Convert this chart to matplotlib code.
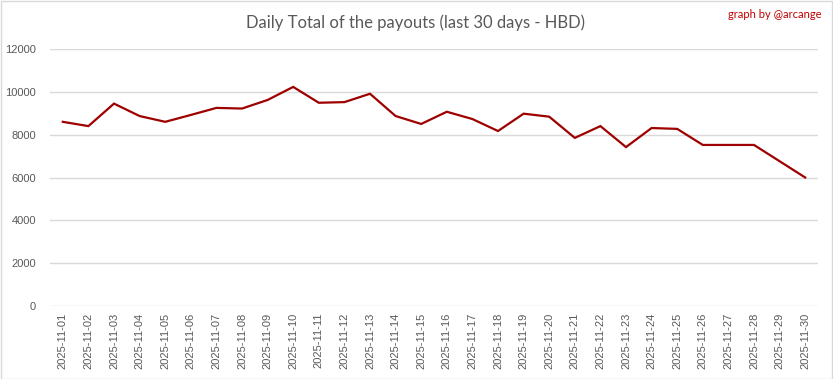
import matplotlib
matplotlib.use("Agg")
import matplotlib.pyplot as plt
from matplotlib.patches import Rectangle

# daily totals (HBD)
dates = ["2025-11-%02d" % d for d in range(1, 31)]
payouts = [8600, 8400, 9450, 8870, 8600, 8920, 9250, 9220, 9620, 10230,
           9490, 9520, 9910, 8870, 8500, 9070, 8730, 8170, 8980, 8840,
           7850, 8400, 7420, 8310, 8270, 7520, 7520, 7520, 6760, 6000]
yticks = [0, 2000, 4000, 6000, 8000, 10000, 12000]

W, H = 833, 379
fig = plt.figure(figsize=(W / 100, H / 100), dpi=100)
ax = fig.add_axes([50 / W, 1 - 306 / H, (818 - 50) / W, (306 - 49) / H])

ax.plot(range(len(dates)), payouts, color="#9E0000", linewidth=1.6, solid_joinstyle="miter")

ax.set_xlim(-0.5, len(dates) - 0.5)
ax.set_ylim(0, 12000)
ax.set_yticks(yticks)
ax.set_yticklabels([str(v) for v in yticks])
ax.set_xticks(range(len(dates)))
ax.set_xticklabels(dates, rotation=90)

ax.grid(axis="y", color="#D9D9D9", linewidth=1)
ax.set_axisbelow(True)
for s in ax.spines.values():
    s.set_visible(False)
ax.tick_params(length=0, colors="#595959", labelsize=8)
ax.tick_params(axis="y", pad=10)
ax.tick_params(axis="x", pad=5)
for lbl in ax.get_xticklabels() + ax.get_yticklabels():
    lbl.set_fontfamily("Liberation Sans")

fig.text(416 / W, 1 - 23 / H, "Daily Total of the payouts (last 30 days - HBD)",
         ha="center", va="center", fontsize=12, color="#595959", family="Lato")
fig.text(821 / W, 1 - 15 / H, "graph by @arcange", ha="right", va="center",
         fontsize=8, color="#C00000", family="Lato")

# light frame around the chart
fig.patches.append(Rectangle((0.5 / W, 0.5 / H), 1 - 1.5 / W, 1 - 1.5 / H,
                             transform=fig.transFigure, fill=False,
                             edgecolor="#D9D9D9", linewidth=1))

fig.savefig("out.png", dpi=100)
